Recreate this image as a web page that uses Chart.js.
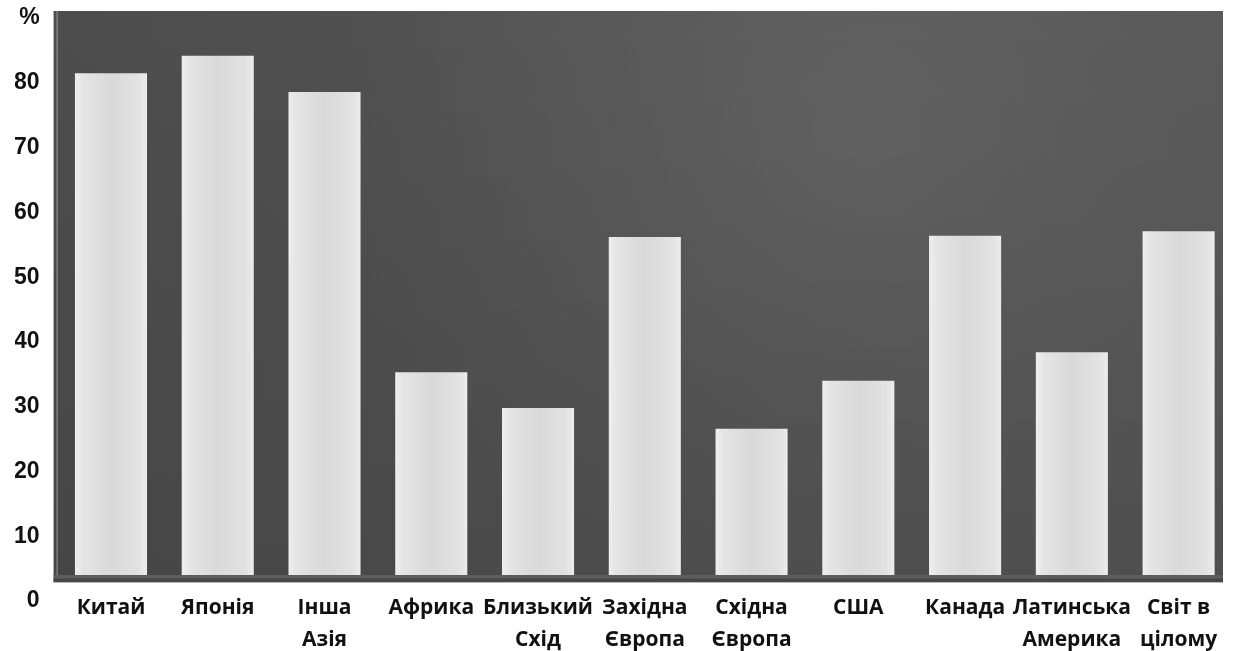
<!DOCTYPE html>
<html>
<head>
<meta charset="utf-8">
<script src="https://cdn.jsdelivr.net/npm/chart.js@4/dist/chart.umd.min.js"></script>
<style>
  html, body { margin: 0; padding: 0; background: #ffffff; }
  #wrap { width: 1237px; height: 651px; }
</style>
</head>
<body>
<div id="wrap"><canvas id="chart" width="1237" height="651"></canvas></div>
<script>
// Regions along the horizontal axis (multi-line names are split into lines)
const regions = [
  'Китай',
  'Японія',
  ['Інша', 'Азія'],
  'Африка',
  ['Близький', 'Схід'],
  ['Західна', 'Європа'],
  ['Східна', 'Європа'],
  'США',
  'Канада',
  ['Латинська', 'Америка'],
  ['Світ в', 'цілому']
];

// Share, %, per region
const shares = [81.5, 84.2, 78.6, 35.3, 29.8, 56.2, 26.6, 34.0, 56.4, 38.4, 57.1];

// Value-axis tick values; the topmost one carries the unit sign
const yTickValues = [0, 10, 20, 30, 40, 50, 60, 70, 80, 90];
const unitTick = 90;
const unitLabel = '%';

// The zero label sits just under the panel, below the visible range
const Y_MIN = 1.85;
const Y_MAX = 91.1;
const BAR_BASE = 4;
const FRAME_BOTTOM = 2.9;

// Bar fill: light gray with brighter edges
function barFill(context) {
  const chart = context.chart;
  const area = chart.chartArea;
  if (!area) return '#e0e0e0';
  const xs = chart.scales.x;
  const cx = xs.getPixelForValue(context.dataIndex);
  const w = (xs.width / regions.length) * 0.675;
  const g = chart.ctx.createLinearGradient(cx - w / 2, 0, cx + w / 2, 0);
  g.addColorStop(0, '#eeeeee');
  g.addColorStop(0.12, '#e4e4e4');
  g.addColorStop(0.5, '#d9d9d9');
  g.addColorStop(0.88, '#e2e2e2');
  g.addColorStop(1, '#ececec');
  return g;
}

// Dark panel behind the bars
const panelPlugin = {
  id: 'panel',
  beforeDatasetsDraw(chart) {
    const { ctx, chartArea, scales } = chart;
    const left = chartArea.left - 4;
    const right = chartArea.right - 9;
    const top = chartArea.top;
    const bottom = scales.y.getPixelForValue(FRAME_BOTTOM);
    ctx.save();
    const base = ctx.createLinearGradient(left, 0, right, 0);
    base.addColorStop(0, '#4d4d4d');
    base.addColorStop(0.45, '#535353');
    base.addColorStop(1, '#585858');
    ctx.fillStyle = base;
    ctx.fillRect(left, top, right - left, bottom - top);
    // lighter haze in the upper right part of the panel
    const glow = ctx.createRadialGradient(860, 130, 20, 860, 130, 520);
    glow.addColorStop(0, 'rgba(115,115,115,0.45)');
    glow.addColorStop(0.6, 'rgba(105,105,105,0.2)');
    glow.addColorStop(1, 'rgba(105,105,105,0)');
    ctx.fillStyle = glow;
    ctx.fillRect(left, top, right - left, bottom - top);
    // slightly darker toward the bottom
    const shade = ctx.createLinearGradient(0, top, 0, bottom);
    shade.addColorStop(0, 'rgba(0,0,0,0)');
    shade.addColorStop(1, 'rgba(0,0,0,0.1)');
    ctx.fillStyle = shade;
    ctx.fillRect(left, top, right - left, bottom - top);
    // thin light edge on the left
    ctx.fillStyle = 'rgba(190,190,190,0.7)';
    ctx.fillRect(left + 3, top, 1, bottom - top);
    ctx.restore();
  },
  afterDatasetsDraw(chart) {
    const { ctx, chartArea, scales } = chart;
    const left = chartArea.left - 4;
    const right = chartArea.right - 9;
    const y0 = scales.y.getPixelForValue(BAR_BASE);
    const y1 = scales.y.getPixelForValue(FRAME_BOTTOM);
    ctx.save();
    ctx.fillStyle = '#5e5e5e';
    ctx.fillRect(left, y0, right - left, (y1 - y0) / 2);
    ctx.fillStyle = '#474747';
    ctx.fillRect(left, y0 + (y1 - y0) / 2, right - left, (y1 - y0) / 2);
    ctx.restore();
  }
};

new Chart(document.getElementById('chart'), {
  type: 'bar',
  data: {
    labels: regions,
    datasets: [{
      data: shares,
      base: BAR_BASE,
      backgroundColor: barFill,
      borderWidth: 0,
      barPercentage: 0.675,
      categoryPercentage: 1
    }]
  },
  options: {
    responsive: false,
    devicePixelRatio: 1,
    animation: false,
    layout: { padding: { left: 15, right: 5, top: 11, bottom: 0 } },
    plugins: {
      legend: { display: false },
      tooltip: { enabled: false },
      title: { display: false }
    },
    scales: {
      x: {
        grid: { display: false, drawTicks: false },
        border: { display: false },
        afterFit(scale) {
          scale.height = 62;
          scale.paddingLeft = 0;
          scale.paddingRight = 0;
        },
        ticks: {
          color: '#111111',
          font: { family: '"Open Sans", "Noto Sans", sans-serif', weight: 'bold', size: 21, lineHeight: 1.52 },
          padding: 3,
          maxRotation: 0,
          autoSkip: false
        }
      },
      y: {
        min: Y_MIN,
        max: Y_MAX,
        grid: { display: false, drawTicks: false },
        border: { display: false },
        afterBuildTicks(scale) {
          scale.ticks = yTickValues.map(v => ({ value: v }));
        },
        afterFit(scale) {
          scale.width = 42.6;
          scale.paddingTop = 0;
          scale.paddingBottom = 0;
        },
        ticks: {
          color: '#111111',
          font: { family: '"Liberation Sans", Arial, sans-serif', weight: 'bold', size: 23, lineHeight: 1 },
          padding: 18,
          autoSkip: false,
          callback: v => (v === unitTick ? unitLabel : String(v))
        }
      }
    }
  },
  plugins: [panelPlugin]
});
</script>
</body>
</html>
